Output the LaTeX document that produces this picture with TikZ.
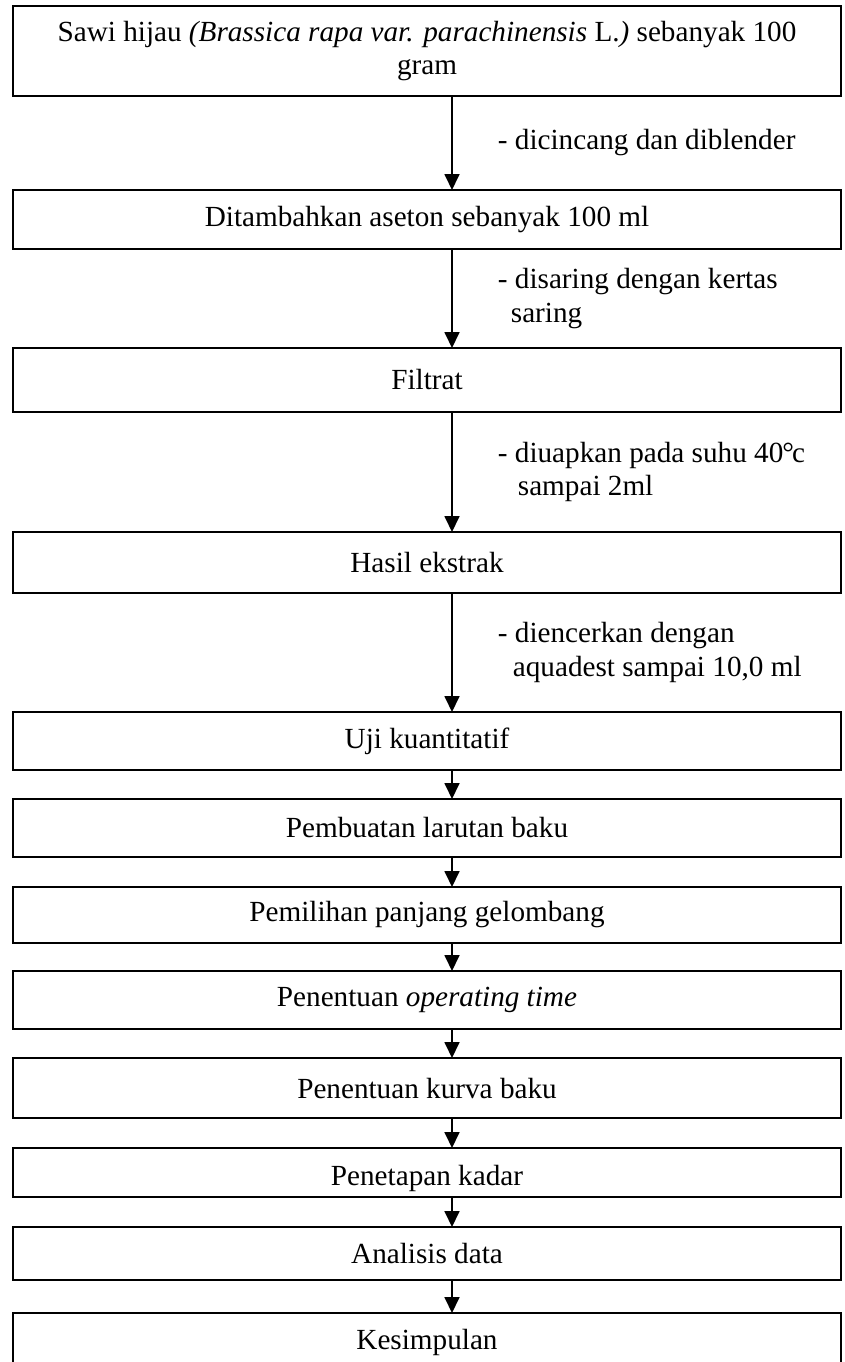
\documentclass[tikz,border=0pt]{standalone}
\usepackage{fontspec}
\setmainfont{Liberation Serif}
\usetikzlibrary{
  arrows.meta,
  positioning
}
\definecolor{ink}{HTML}{000000}
\tikzset{
  base/.style={
    text=ink,
    font=\fontsize{29.2pt}{33.6pt}\selectfont,
    align=center,
    inner sep=0pt,
  },
  proc/.style={
    base,
    draw=ink,
    line width=1.6pt,
    outer sep=0pt,
    minimum width=828pt,
    minimum height=#1,
  },
  proc/.default=58pt,
  flow/.style={
    -{Triangle[length=16pt, width=15pt]},
    line width=1.8pt,
    draw=ink,
  },
  plabel/.style={
    base,
    align=left,
  },
}

\begin{document}
\begin{tikzpicture}[x=1pt, y=1pt]

\useasboundingbox (0,0) rectangle (844,-1362);

% === Ekstraksi ===

\node[proc=90pt] at (427,-51)
  (sawi) {Sawi hijau \textit{(Brassica rapa var. parachinensis} L.\textit{)} sebanyak 100\\gram};

\node[proc=59pt, below=94pt of sawi]
  (aseton) {Ditambahkan aseton sebanyak 100 ml};

\node[proc=64pt, below=99pt of aseton]
  (filtrat) {Filtrat};

\node[proc=61pt, below=120pt of filtrat]
  (ekstrak) {Hasil ekstrak};

\draw[flow] ([xshift=25pt]sawi.south) --
  node[plabel, right=45pt] {- dicincang dan diblender} ([xshift=25pt]aseton.north);
\draw[flow] ([xshift=25pt]aseton.south) --
  node[plabel, right=45pt] {- disaring dengan kertas\\\hspace*{13pt}saring} ([xshift=25pt]filtrat.north);
\draw[flow] ([xshift=25pt]filtrat.south) --
  node[plabel, right=45pt] {- diuapkan pada suhu 40\kern-1pt°\kern-2pt c\\\hspace*{20pt}sampai 2ml} ([xshift=25pt]ekstrak.north);

% === Uji kuantitatif ===

\node[proc=58pt, below=119pt of ekstrak]
  (uji) {Uji kuantitatif};

\draw[flow] ([xshift=25pt]ekstrak.south) --
  node[plabel, right=45pt] {- diencerkan dengan\\\hspace*{15pt}aquadest sampai 10,0 ml} ([xshift=25pt]uji.north);

\node[proc=58pt, below=29pt of uji]
  (baku) {Pembuatan larutan baku};

\node[proc=56pt, below=30pt of baku]
  (gelombang) {Pemilihan panjang gelombang};

\node[proc=58pt, below=28pt of gelombang]
  (optime) {Penentuan \textit{operating time}};

\node[proc=60pt, below=29pt of optime]
  (kurva) {Penentuan kurva baku};

\node[proc=49pt, below=30pt of kurva, text height=25pt, text depth=0pt]
  (kadar) {Penetapan kadar};

\node[proc=53pt, below=30pt of kadar]
  (analisis) {Analisis data};

\node[proc=58pt, below=33pt of analisis]
  (simpulan) {Kesimpulan};

\draw[flow] ([xshift=25pt]uji.south) -- ([xshift=25pt]baku.north);
\draw[flow] ([xshift=25pt]baku.south) -- ([xshift=25pt]gelombang.north);
\draw[flow] ([xshift=25pt]gelombang.south) -- ([xshift=25pt]optime.north);
\draw[flow] ([xshift=25pt]optime.south) -- ([xshift=25pt]kurva.north);
\draw[flow] ([xshift=25pt]kurva.south) -- ([xshift=25pt]kadar.north);
\draw[flow] ([xshift=25pt]kadar.south) -- ([xshift=25pt]analisis.north);
\draw[flow] ([xshift=25pt]analisis.south) -- ([xshift=25pt]simpulan.north);

\end{tikzpicture}
\end{document}
